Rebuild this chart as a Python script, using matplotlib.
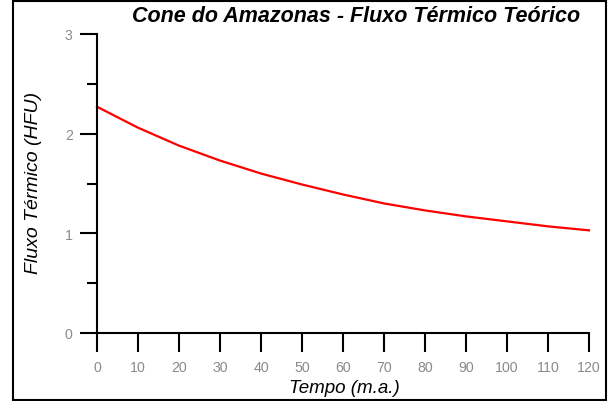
import numpy as np
import matplotlib
matplotlib.use('Agg')
import matplotlib.pyplot as plt
from matplotlib.patches import Rectangle
from matplotlib.ticker import MultipleLocator

# data
tempo = [0, 10, 20, 30, 40, 50, 60, 70, 80, 90, 100, 110, 120]
fluxo = [2.27, 2.06, 1.88, 1.73, 1.60, 1.49, 1.39, 1.30, 1.23, 1.17, 1.12, 1.07, 1.03]

titulo = 'Cone do Amazonas - Fluxo Térmico Teórico'
xlabel = 'Tempo (m.a.)'
ylabel = 'Fluxo Térmico (HFU)'

plt.rcParams['font.family'] = 'Liberation Sans'

fig = plt.figure(figsize=(6.08, 4.02), dpi=100)
ax = fig.add_axes([97/608, 68/402, 492/608, 299/402])

ax.plot(tempo, fluxo, color='#ff0000', linewidth=1.6, clip_on=False)

ax.set_xlim(0, 120)
ax.set_ylim(0, 3)
ax.set_xticks(np.arange(0, 121, 10))
ax.set_yticks([0, 1, 2, 3])
ax.yaxis.set_minor_locator(MultipleLocator(0.5))

for s in ['top', 'right']:
    ax.spines[s].set_visible(False)
for s in ['left', 'bottom']:
    ax.spines[s].set_linewidth(1.5)

ax.tick_params(axis='y', which='major', direction='out', length=12.5, width=1.5,
               pad=5, labelsize=10.2, labelcolor='#8a8a8a')
ax.tick_params(axis='y', which='minor', direction='out', length=7.5, width=1.5)
ax.tick_params(axis='x', which='major', direction='out', length=13.5, width=1.5,
               pad=6, labelsize=10.2, labelcolor='#8a8a8a')

ax.set_xlabel(xlabel, fontsize=13.5, style='italic')
ax.set_ylabel(ylabel, fontsize=14, style='italic')
ax.xaxis.set_label_coords(0.502, -0.155)
ax.yaxis.set_label_coords(-0.112, 0.505)

fig.text(356/608, 1 - 17/402, titulo, fontsize=15.5, fontweight='bold',
         style='italic', ha='center', va='center')

# black frame round the whole picture
fig.patches.append(Rectangle((13/608, 1/402), 593/608, 399/402, transform=fig.transFigure,
                             fill=False, edgecolor='black', linewidth=1.5))

fig.savefig('out.png', dpi=100)
